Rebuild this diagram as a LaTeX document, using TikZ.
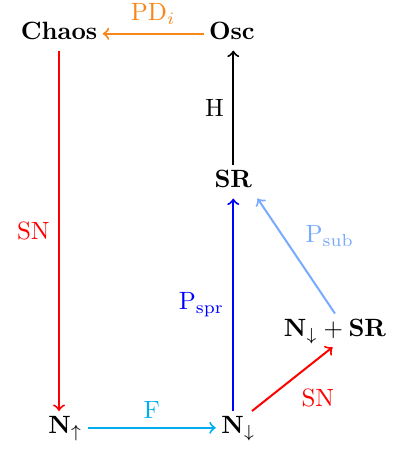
\documentclass[tikz,border=0pt]{standalone}
\usepackage{amsmath}
\definecolor{pdorange}{RGB}{247,135,25}
\definecolor{fcyan}{RGB}{0,174,239}
\definecolor{sublue}{RGB}{120,170,255}
\tikzset{
  state/.style={font=\bfseries,text height=1.6ex,text depth=.5ex,inner sep=2pt},
  trans/.style={->,thick},
}
\begin{document}
\begin{tikzpicture}[x=1cm,y=1cm]
\useasboundingbox (0,0) rectangle (5.567,6.355);
\node[state] (chaos) at (0.83,5.88) {Chaos};
\node[state] (osc) at (3.26,5.88) {Osc};
\node[state] (sr) at (3.28,3.80) {SR};
\node[state] (nup) at (0.92,0.34) {$\mathbf{N}_\uparrow$};
\node[state] (ndown) at (3.35,0.34) {$\mathbf{N}_\downarrow$};
\node[state] (ndsr) at (4.71,1.71) {$\mathbf{N}_\downarrow+\mathbf{SR}$};

\draw[trans,pdorange] (osc) -- node[above] {$\mathrm{PD}_i$} (chaos);
\draw[trans,red] (chaos.south) -- node[left] {SN} (chaos.south |- nup.north);
\draw[trans,fcyan] (nup) -- node[above] {F} (ndown);
\draw[trans,blue] (sr.south |- ndown.north) -- node[left] {$\mathrm{P}_{\mathrm{spr}}$} (sr.south);
\draw[trans] (sr.north) -- node[left] {H} (sr.north |- osc.south);
\draw[trans,red] ([xshift=-3.5pt]ndown.north east) -- node[below right] {SN} ([xshift=-1pt]ndsr.south);
\draw[trans,sublue] (ndsr.north) -- node[above right] {$\mathrm{P}_{\mathrm{sub}}$} (sr.south east);
\end{tikzpicture}
\end{document}
